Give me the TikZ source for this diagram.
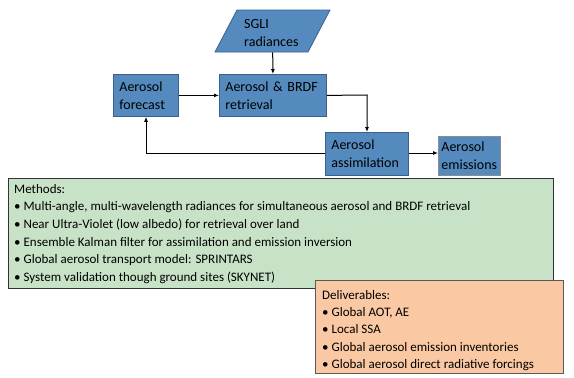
\documentclass[tikz,border=0pt]{standalone}
\usepackage{fontspec}
\setmainfont{Carlito}
\usetikzlibrary{arrows.meta}
\definecolor{boxblue}{RGB}{84,138,190}
\definecolor{boxline}{RGB}{60,95,140}
\definecolor{methgreen}{RGB}{200,226,199}
\definecolor{delorange}{RGB}{250,201,164}
\tikzset{
  flowbox/.style={draw=boxline, fill=boxblue, line width=0.8pt, anchor=north west,
    align=left, inner xsep=6pt, inner ysep=0pt, font=\fontsize{14}{18}\selectfont},
  flowarrow/.style={-{Latex[length=5pt,width=4pt]}, line width=1pt, draw=black},
  infobox/.style={draw=black!80, line width=0.8pt, anchor=north west, align=left,
    inner xsep=6pt, inner ysep=4pt, font=\fontsize{13}{17.5}\selectfont},
}
\begin{document}
\begin{tikzpicture}[x=1pt,y=-1pt]
\useasboundingbox (0,0) rectangle (574,378);
% SGLI parallelogram
\fill[boxblue,draw=boxline,line width=0.8pt] (237,10) -- (330,10) -- (308,52) -- (215,52) -- cycle;
\node[anchor=north west, minimum width=115pt, minimum height=42pt, inner sep=0pt] (sglibox) at (215,10) {};
\node[anchor=west, align=left, inner sep=0pt, font=\fontsize{14}{18}\selectfont] (sgli) at (244,33) {SGLI\\radiances};
% boxes
\node[flowbox, minimum width=65pt, minimum height=42pt, text width=53pt] (fc) at (113,74) {Aerosol\\forecast};
\node[flowbox, minimum width=107pt, minimum height=42pt, text width=95pt] (ret) at (219,74) {Aerosol \& BRDF\\retrieval};
\node[flowbox, minimum width=83pt, minimum height=43pt, text width=71pt] (ass) at (325,132) {Aerosol\\assimilation};
\node[flowbox, minimum width=62pt, minimum height=39pt, text width=56pt, inner xsep=3pt, draw=black!45] (emi) at (438,136) {Aerosol\\emissions};
% arrows
\draw[flowarrow] (sglibox.south) -- (ret.north);
\draw[flowarrow] (fc.east) -- (ret.west);
\coordinate (c1) at (367,95);
\draw[flowarrow] (ret.east) -- (c1) -- (c1 |- ass.north);
\coordinate (c2) at (146,153);
\draw[flowarrow] (ass.west |- c2) -- (c2) -- (c2 |- fc.south);
\draw[flowarrow] (ass.east |- c2) -- (emi.west |- c2);
% methods box
\node[infobox, fill=methgreen, minimum width=545pt, minimum height=110pt, text width=533pt, text depth=0pt] (meth) at (8,178) {};
\node[anchor=north west, align=left, inner sep=0pt, font=\fontsize{13}{17.6}\selectfont] (methtxt) at (14,184) {Methods:\\
• Multi-angle, multi-wavelength radiances for simultaneous aerosol and BRDF retrieval\\
• Near Ultra-Violet (low albedo) for retrieval over land\\
• Ensemble Kalman filter for assimilation and emission inversion\\
• Global aerosol transport model: SPRINTARS\\
• System validation though ground sites (SKYNET)};
% deliverables box
\node[infobox, fill=delorange, draw=black!65, minimum width=248pt, minimum height=93pt] (del) at (315,280) {};
\node[anchor=north west, align=left, inner sep=0pt, font=\fontsize{13}{17.3}\selectfont] (deltxt) at (322,290) {Deliverables:\\
• Global AOT, AE\\
• Local SSA\\
• Global aerosol emission inventories\\
• Global aerosol direct radiative forcings};
\end{tikzpicture}
\end{document}
